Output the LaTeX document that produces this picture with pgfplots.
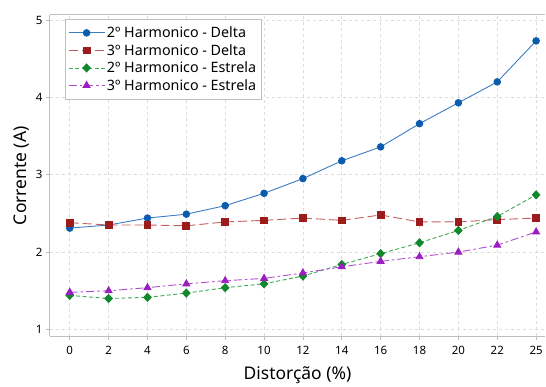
\documentclass[border=0pt]{standalone}
\usepackage{fontspec}
\setmainfont{Noto Sans}
\usepackage{pgfplots}
\pgfplotsset{compat=1.18}
\definecolor{cblue}{HTML}{0B5CAD}
\definecolor{cbluel}{HTML}{3C7CC4}
\definecolor{cred}{HTML}{9E1B1B}
\definecolor{credl}{HTML}{C06060}
\definecolor{cgreen}{HTML}{12882C}
\definecolor{cgreenl}{HTML}{3DAA52}
\definecolor{cpurp}{HTML}{9B1FC0}
\definecolor{cpurpl}{HTML}{B04ED0}
\definecolor{axgray}{HTML}{BFBFBF}
\definecolor{gridgray}{HTML}{DCDCDC}
\begin{document}
\begin{tikzpicture}
\begin{axis}[
  scale only axis,
  width=496pt, height=322pt,
  xmin=-0.51, xmax=12.23,
  ymin=0.91, ymax=5.065,
  xtick={0,1,2,3,4,5,6,7,8,9,10,11,12},
  xticklabels={0,2,4,6,8,10,12,14,16,18,20,22,25},
  ytick={1,2,3,4,5},
  axis lines=left,
  axis line style={-, axgray, line width=1pt},
  tick style={axgray, line width=0.8pt},
  tick align=outside,
  major tick length=4pt,
  grid=major,
  grid style={gridgray, dashed, line width=0.6pt},
  /pgf/number format/assume math mode=true,
  ticklabel style={font=\fontsize{11.5}{13}\selectfont},
  xticklabel style={yshift=-2pt},
  xlabel={Distorção (\%)},
  ylabel={Corrente (A)},
  label style={font=\fontsize{17.5}{20}\selectfont},
  xlabel style={yshift=-5pt},
  ylabel style={yshift=0pt},
  legend style={at={(rel axis cs:0.03,0.988)}, anchor=north west,
    draw=axgray, line width=0.8pt, font=\fontsize{14.3}{16}\selectfont,
    row sep=1.2pt, inner xsep=3pt, inner ysep=5.5pt},
  legend image code/.code={\draw[mark repeat=2,mark phase=2] plot coordinates {(0pt,0pt)(18pt,0pt)(36pt,0pt)};},
  legend cell align=left,
  clip=false,
]
\draw[axgray, line width=1pt] (rel axis cs:0,1) -- (rel axis cs:1,1);
\addplot[cbluel, line width=0.9pt, mark=*, mark size=3.3pt, mark options={fill=cblue, draw=cblue, solid}]
 coordinates {(0,2.31)(1,2.35)(2,2.44)(3,2.49)(4,2.60)(5,2.76)(6,2.95)(7,3.18)(8,3.36)(9,3.66)(10,3.93)(11,4.20)(12,4.73)};
\addlegendentry{2º Harmonico - Delta}
\addplot[credl, line width=0.9pt, dash pattern=on 9pt off 4pt, mark=square*, mark size=3.4pt, mark options={fill=cred, draw=cred, solid}]
 coordinates {(0,2.38)(1,2.35)(2,2.35)(3,2.34)(4,2.39)(5,2.41)(6,2.44)(7,2.41)(8,2.48)(9,2.39)(10,2.39)(11,2.42)(12,2.44)};
\addlegendentry{3º Harmonico - Delta}
\addplot[cgreenl, line width=0.9pt, dash pattern=on 4pt off 2.5pt, mark=diamond*, mark size=4pt, mark options={fill=cgreen, draw=cgreen, solid, xscale=1.25}]
 coordinates {(0,1.44)(1,1.40)(2,1.415)(3,1.47)(4,1.54)(5,1.59)(6,1.69)(7,1.84)(8,1.98)(9,2.12)(10,2.28)(11,2.46)(12,2.74)};
\addlegendentry{2º Harmonico - Estrela}
\addplot[cpurpl, line width=0.9pt, dash pattern=on 8pt off 3pt on 2.5pt off 3pt, mark=triangle*, mark size=4pt, mark options={fill=cpurp, draw=cpurp, solid}]
 coordinates {(0,1.48)(1,1.50)(2,1.54)(3,1.59)(4,1.63)(5,1.66)(6,1.73)(7,1.81)(8,1.88)(9,1.94)(10,2.00)(11,2.09)(12,2.26)};
\addlegendentry{3º Harmonico - Estrela}
\end{axis}
\path ([xshift=-50pt,yshift=-45pt]current axis.south west) rectangle ([yshift=15pt]current axis.north east);
\end{tikzpicture}
\end{document}
